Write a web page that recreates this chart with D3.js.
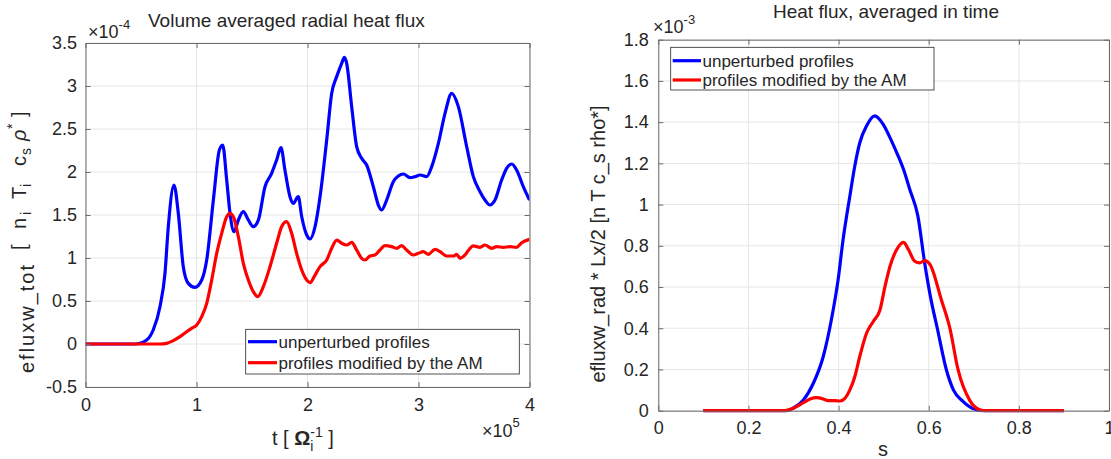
<!DOCTYPE html>
<html><head><meta charset="utf-8">
<script src="https://cdn.jsdelivr.net/npm/d3@7"></script>
<style>
body{margin:0;background:#fff}
text{font-family:"Liberation Sans",Arial,Helvetica,sans-serif;fill:#262626;white-space:pre}
</style>
</head><body>
<svg id="c" width="1111" height="459"></svg>
<script>
// ---------- data (left panel, units: t ×1e5, flux ×1e-4) ----------
const timeUnperturbed = [
  0,0.446,0.551,0.61,0.671,0.716,0.746,0.797,0.836,0.881,
  0.926,0.986,1.047,1.092,1.152,1.206,1.236,1.272,1.302,1.338,
  1.377,1.422,1.467,1.512,1.557,1.617,1.677,1.722,1.761,1.797,
  1.842,1.872,1.917,1.948,1.993,2.023,2.068,2.113,2.173,2.218,
  2.263,2.308,2.332,2.353,2.398,2.443,2.488,2.533,2.593,2.638,
  2.668,2.713,2.773,2.818,2.863,2.923,2.968,3.014,3.074,3.119,
  3.179,3.239,3.299,3.359,3.434,3.494,3.554,3.599,3.644,3.689,
  3.749,3.794,3.84,3.885,3.944,4.0];
const fluxUnperturbed = [
  0,0,0.047,0.163,0.434,0.822,1.364,1.849,1.52,0.899,
  0.705,0.659,0.744,0.977,1.674,2.256,2.314,1.907,1.52,1.306,
  1.442,1.539,1.442,1.364,1.44,1.829,1.985,2.14,2.283,2.02,
  1.713,1.636,1.713,1.48,1.267,1.221,1.364,1.713,2.372,2.915,
  3.109,3.264,3.333,3.264,2.76,2.295,2.159,2.081,1.829,1.616,
  1.558,1.674,1.887,1.953,1.977,1.934,1.946,1.965,1.946,2.062,
  2.333,2.682,2.915,2.76,2.295,1.946,1.771,1.674,1.616,1.674,
  1.907,2.043,2.093,2.02,1.829,1.674];
const timeModified = [
  0,0.671,0.731,0.791,0.851,0.911,0.956,1.002,1.047,1.092,
  1.137,1.182,1.227,1.272,1.302,1.338,1.377,1.422,1.467,1.512,
  1.551,1.602,1.662,1.722,1.767,1.812,1.857,1.902,1.948,1.993,
  2.023,2.068,2.113,2.173,2.218,2.263,2.308,2.353,2.398,2.443,
  2.488,2.518,2.563,2.608,2.653,2.698,2.758,2.803,2.848,2.893,
  2.953,2.998,3.044,3.089,3.149,3.194,3.254,3.314,3.344,3.374,
  3.419,3.464,3.494,3.554,3.599,3.659,3.704,3.764,3.824,3.884,
  3.929,4.0];
const fluxModified = [
  0,0,0.008,0.039,0.085,0.143,0.182,0.221,0.318,0.473,
  0.744,1.054,1.287,1.48,1.52,1.461,1.248,0.938,0.744,0.608,
  0.55,0.666,0.899,1.171,1.364,1.422,1.287,1.054,0.86,0.744,
  0.713,0.802,0.899,0.977,1.113,1.209,1.171,1.151,1.182,1.093,
  0.996,0.977,1.023,1.035,1.093,1.143,1.132,1.113,1.143,1.093,
  1.035,1.054,1.074,1.043,1.101,1.074,1.023,1.023,1.043,0.996,
  1.035,1.113,1.14,1.124,1.151,1.113,1.132,1.124,1.132,1.124,
  1.178,1.217];

// ---------- data (right panel, units: flux ×1e-3) ----------
const sUnperturbed = [
  0.1,0.285,0.299,0.322,0.344,0.366,0.384,0.399,0.41,0.425,
  0.436,0.447,0.462,0.48,0.499,0.514,0.529,0.544,0.558,0.576,
  0.591,0.605,0.619,0.639,0.655,0.676,0.698,0.72,0.9];
const avgUnperturbed = [
  0,0,0.012,0.052,0.133,0.263,0.441,0.636,0.83,1.041,
  1.187,1.3,1.381,1.43,1.389,1.325,1.252,1.171,1.073,0.944,
  0.717,0.54,0.4,0.2,0.1,0.045,0.01,0,0];
const sModified = [
  0.1,0.281,0.299,0.322,0.337,0.351,0.366,0.377,0.392,0.403,
  0.414,0.425,0.436,0.447,0.462,0.477,0.492,0.503,0.514,0.529,
  0.544,0.555,0.569,0.58,0.591,0.603,0.628,0.647,0.665,0.691,
  0.713,0.728,0.9];
const avgModified = [
  0,0,0.012,0.039,0.057,0.063,0.057,0.049,0.049,0.047,
  0.06,0.101,0.165,0.263,0.376,0.433,0.49,0.603,0.7,0.782,
  0.817,0.782,0.725,0.717,0.728,0.709,0.538,0.4,0.2,0.05,
  0.005,0,0];

// ---------- ticks / labels ----------
const leftXTicks = [0,1,2,3,4];
const leftYTicks = [-0.5,0,0.5,1,1.5,2,2.5,3,3.5];
const rightXTicks = [0,0.2,0.4,0.6,0.8,1];
const rightYTicks = [0,0.2,0.4,0.6,0.8,1,1.2,1.4,1.6,1.8];
const legendLabels = ["unperturbed profiles","profiles modified by the AM"];
const seriesColors = ["#0000ff","#ff0000"];

const svg = d3.select("#c");
const FS = 18, LFS = 20;

function richText(parent, segs, fs, anchor){
  const g = parent.append("g");
  let x = 0, prevStart = 0;
  segs.forEach(s=>{
    const sx = s.stack ? prevStart : (s.at !== undefined ? s.at : x);
    const t = g.append("text").attr("x", sx).attr("y", s.off||0)
      .attr("font-size", s.size||fs)
      .attr("font-weight", s.bold?"bold":null)
      .attr("font-style", s.italic?"italic":null)
      .attr("letter-spacing", s.ls||null)
      .text(s.t);
    const w = t.node().getComputedTextLength();
    if(!s.stack){ prevStart = sx; x = sx + w; } else { x = Math.max(x, sx + w); }
  });
  if(anchor==="middle") g.selectAll("text").attr("x", function(){ return +this.getAttribute("x") - x/2; });
  return g;
}

function panel(cfg){
  const x = d3.scaleLinear().domain(cfg.xd).range([cfg.l, cfg.r]);
  const y = d3.scaleLinear().domain(cfg.yd).range([cfg.b, cfg.t]);
  const g = svg.append("g");
  g.selectAll(".gx").data(cfg.xt).join("line")
    .attr("x1",d=>x(d)).attr("x2",d=>x(d)).attr("y1",cfg.t).attr("y2",cfg.b)
    .attr("stroke","#e6e6e6").attr("stroke-width",1);
  g.selectAll(".gy").data(cfg.yt).join("line")
    .attr("y1",d=>y(d)).attr("y2",d=>y(d)).attr("x1",cfg.l).attr("x2",cfg.r)
    .attr("stroke","#e6e6e6").attr("stroke-width",1);
  const clipId = "clip"+cfg.id;
  g.append("clipPath").attr("id",clipId).append("rect")
    .attr("x",cfg.l).attr("y",cfg.t-2).attr("width",cfg.r-cfg.l).attr("height",cfg.b-cfg.t+4);
  const line = d3.line().x(d=>x(d[0])).y(d=>y(d[1])).curve(d3.curveMonotoneX);
  cfg.series.forEach((s,i)=>{
    g.append("path").attr("clip-path",`url(#${clipId})`)
      .datum(s.xs.map((v,k)=>[v,s.ys[k]]))
      .attr("d",line).attr("fill","none").attr("stroke",seriesColors[i])
      .attr("stroke-width",3.2).attr("stroke-linejoin","round");
  });
  const ax = (gen, tr)=>{
    const a = g.append("g").attr("transform",tr).call(gen);
    a.selectAll("path.domain").attr("stroke","#6b6b6b").attr("stroke-width",1);
    a.selectAll(".tick line").attr("stroke","#6b6b6b");
    a.selectAll("text").attr("font-size",FS).attr("font-family",null).attr("fill","#262626");
    return a;
  };
  ax(d3.axisBottom(x).tickValues(cfg.xt).tickFormat(d=>String(d)).tickSizeInner(-5).tickSizeOuter(0).tickPadding(cfg.xpad),
     `translate(0,${cfg.b})`);
  ax(d3.axisTop(x).tickValues(cfg.xt).tickFormat("").tickSizeInner(-5).tickSizeOuter(0), `translate(0,${cfg.t})`);
  ax(d3.axisLeft(y).tickValues(cfg.yt).tickFormat(d=>String(d)).tickSizeInner(-5).tickSizeOuter(0).tickPadding(cfg.ypad),
     `translate(${cfg.l},0)`);
  ax(d3.axisRight(y).tickValues(cfg.yt).tickFormat("").tickSizeInner(-5).tickSizeOuter(0), `translate(${cfg.r},0)`);
  const L = cfg.leg;
  g.append("rect").attr("x",L.x0).attr("y",L.y0).attr("width",L.x1-L.x0).attr("height",L.y1-L.y0)
    .attr("fill","#fff").attr("stroke","#262626").attr("stroke-width",0.8);
  legendLabels.forEach((lab,i)=>{
    const yy = L.rows[i];
    g.append("line").attr("x1",L.lx0).attr("x2",L.lx1).attr("y1",yy).attr("y2",yy)
      .attr("stroke",seriesColors[i]).attr("stroke-width",3.2);
    g.append("text").attr("x",L.lx1+1.5).attr("y",yy+6).attr("font-size",17).text(lab);
  });
  return g;
}

panel({id:"L", xd:[0,4], yd:[-0.5,3.5], l:85.5, r:529.5, t:43, b:387, xt:leftXTicks, yt:leftYTicks,
  xpad:11.5, ypad:8.5,
  series:[{xs:timeUnperturbed, ys:fluxUnperturbed},{xs:timeModified, ys:fluxModified}],
  leg:{x0:245.7,x1:519.3,y0:329.3,y1:374,lx0:248,lx1:277,rows:[341.7,362.7]}});

panel({id:"R", xd:[0,1], yd:[0,1.8], l:658.3, r:1109, t:39.7, b:410.7, xt:rightXTicks, yt:rightYTicks,
  xpad:11, ypad:9.5,
  series:[{xs:sUnperturbed, ys:avgUnperturbed},{xs:sModified, ys:avgModified}],
  leg:{x0:670.7,x1:934,y0:47.3,y1:90,lx0:672.7,lx1:701,rows:[60.7,80]}});

// titles
svg.append("text").attr("x",148).attr("y",27).attr("font-size",19).text("Volume averaged radial heat flux");
svg.append("text").attr("x",773).attr("y",18).attr("font-size",19).text("Heat flux, averaged in time");

// exponent labels
richText(svg.append("g").attr("transform","translate(88,38)"),
  [{t:"×10"},{t:"-4",off:-9,size:13}], FS);
richText(svg.append("g").attr("transform","translate(653,33)"),
  [{t:"×10"},{t:"-3",off:-9,size:13}], FS);
richText(svg.append("g").attr("transform","translate(482,437)"),
  [{t:"×10"},{t:"5",off:-10,size:13}], FS);

// axis labels
richText(svg.append("g").attr("transform","translate(272,445)"),
  [{t:"t [ "},{t:"Ω",bold:true},{t:"i",off:6,size:14},{t:"-1",off:-8,size:14,stack:true},{t:" ]"}], LFS);
// left y label: positions along the axis (screen y of each piece's start)
richText(svg.append("g").attr("transform","translate(34,0) rotate(-90)"),
  [{t:"efluxw_tot",at:-373,ls:2},
   {t:"[",at:-250,off:-8},{t:"n",at:-229,off:-8},{t:"i",at:-215,off:-3,size:14},
   {t:"T",at:-199,off:-8},{t:"i",at:-187,off:-3,size:14},
   {t:"c",at:-166,off:-8},{t:"s",at:-155,off:-3,size:14},
   {t:"ρ",at:-141,off:-8,italic:true},{t:"*",at:-129,off:-17,size:14},{t:"]",at:-117,off:-8}], LFS);
richText(svg.append("g").attr("transform","translate(605,244) rotate(-90)"),
  [{t:"efluxw_rad * Lx/2 [n T c_s rho*]"}], LFS, "middle");
svg.append("text").attr("x",883).attr("y",456).attr("font-size",LFS).attr("text-anchor","middle").text("s");
</script>
</body></html>
